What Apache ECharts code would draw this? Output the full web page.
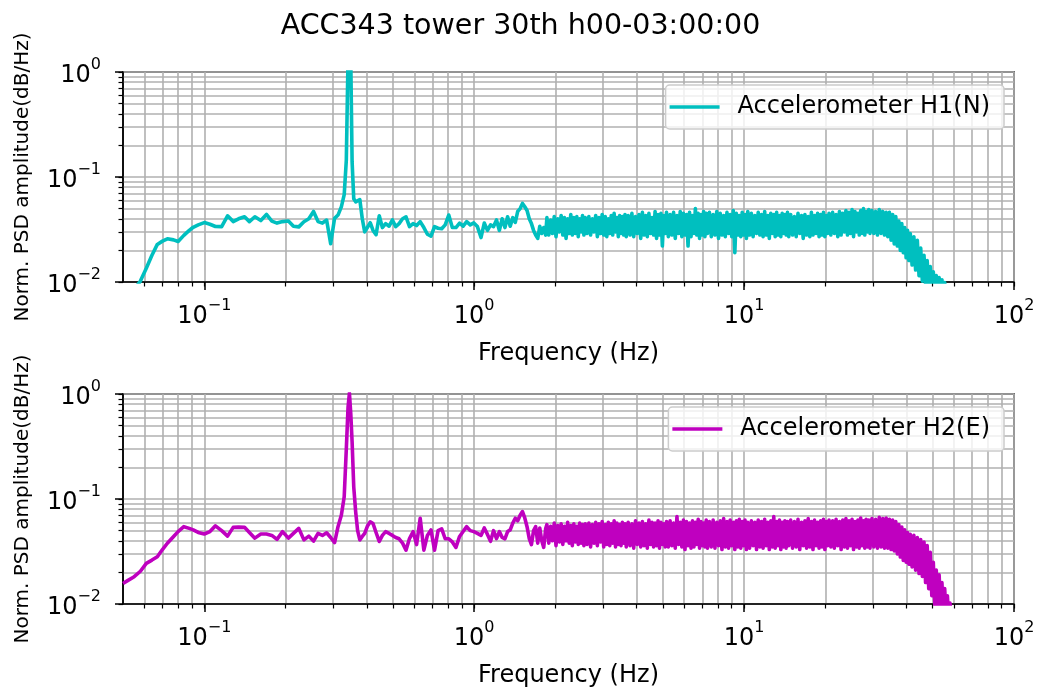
<!DOCTYPE html>
<html><head><meta charset="utf-8">
<script src="https://cdn.jsdelivr.net/npm/echarts@6/dist/echarts.min.js"></script>
<style>html,body{margin:0;padding:0;background:#fff}#c{width:1041px;height:691px}</style>
</head><body><div id="c"></div>
<script>
const titleText = 'ACC343 tower 30th h00-03:00:00';
const seriesNames = ['Accelerometer H1(N)', 'Accelerometer H2(E)'];
const seriesColors = ['#00bfbf', '#bf00bf'];
const xName = 'Frequency (Hz)';
const yName = 'Norm. PSD amplitude(dB/Hz)';

const freq = [
0.050,0.052,0.055,0.058,0.061,0.064,0.067,0.070,0.073,0.077,
0.080,0.084,0.088,0.091,0.095,0.100,0.105,0.110,0.116,0.122,
0.128,0.134,0.141,0.147,0.154,0.162,0.170,0.178,0.186,0.195,
0.205,0.214,0.224,0.234,0.244,0.254,0.264,0.274,0.284,0.294,
0.304,0.313,0.322,0.330,0.336,0.341,0.345,0.349,0.353,0.358,
0.364,0.370,0.377,0.385,0.393,0.402,0.412,0.422,0.433,0.445,
0.457,0.470,0.484,0.498,0.512,0.527,0.543,0.559,0.576,0.594,
0.612,0.631,0.651,0.671,0.692,0.713,0.735,0.758,0.781,0.805,
0.830,0.856,0.883,0.910,0.938,0.967,0.997,1.028,1.06,1.09,
1.12,1.15,1.18,1.21,1.24,1.27,1.30,1.33,1.36,1.39,
1.42,1.45,1.48,1.51,1.54,1.57,1.60,1.63,1.66,1.69,
1.72,1.75,1.78,1.81,1.84,
1.86,1.89,1.92,1.95,1.98,2.01,2.04,2.07,2.10,2.13,2.16,2.19,2.22,2.25,2.28,2.31,2.34,2.37,2.40,2.43,2.46,2.49,2.52,2.55,2.58,
2.62,2.66,2.70,2.74,2.78,2.82,2.86,2.90,2.94,2.98,3.02,3.06,3.10,3.14,3.18,3.22,3.26,3.30,3.34,3.38,3.42,3.46,3.50,3.54,3.58,3.62,3.66,
3.72,3.78,3.84,3.90,3.96,4.02,4.08,4.14,4.20,4.26,4.32,4.38,4.44,4.50,4.56,4.62,4.68,4.74,4.80,4.86,4.92,4.98,5.04,5.10,5.16,
5.24,5.32,5.40,5.48,5.56,5.64,5.72,5.80,5.88,5.96,6.04,6.12,6.20,6.28,6.36,6.44,6.52,6.60,6.68,6.76,6.84,6.92,7.00,7.08,7.16,7.24,7.32,
7.44,7.56,7.68,7.80,7.92,8.04,8.16,8.28,8.40,8.52,8.64,8.76,8.88,9.00,9.12,9.24,9.36,9.48,9.60,9.72,9.84,9.96,10.08,10.20,10.32,
10.48,10.64,10.80,10.96,11.12,11.28,11.44,11.60,11.76,11.92,12.08,12.24,12.40,12.56,12.72,12.88,13.04,13.20,13.36,13.52,13.68,13.84,14.00,14.16,14.32,14.48,14.64,
14.88,15.12,15.36,15.60,15.84,16.08,16.32,16.56,16.80,17.04,17.28,17.52,17.76,18.00,18.24,18.48,18.72,18.96,19.20,19.44,19.68,19.92,20.16,20.40,20.64,
20.96,21.28,21.60,21.92,22.24,22.56,22.88,23.20,23.52,23.84,24.16,24.48,24.80,25.12,25.44,25.76,26.08,26.40,26.72,27.04,27.36,27.68,28.00,28.32,28.64,28.96,29.28,
29.76,30.24,30.72,31.20,31.68,32.16,32.64,33.12,33.60,34.08,34.56,35.04,35.52,36.00,36.48,36.96,37.44,37.92,38.40,38.88,39.36,39.84,40.32,40.80,41.28,
41.92,42.56,43.20,43.84,44.48,45.12,45.76,46.40,47.04,47.68,48.32,48.96,49.60,50.24,50.88,51.52,52.16,52.80,53.44,54.08,54.72,55.36,56.00,56.64,57.28,57.92,58.56
];

const h1 = [
0.006,0.007,0.0085,0.0102,0.0135,0.018,0.0228,0.0245,0.0258,0.0252,
0.0243,0.0278,0.031,0.0332,0.035,0.0368,0.0355,0.0338,0.0337,0.0427,
0.0376,0.040,0.0418,0.0376,0.0418,0.0385,0.044,0.038,0.0364,0.0376,
0.0381,0.034,0.0335,0.0375,0.040,0.047,0.0376,0.0364,0.0389,0.0232,
0.0404,0.0434,0.052,0.068,0.145,1.4,1.6,1.3,0.14,0.062,
0.058,0.056,0.061,0.040,0.030,0.033,0.0367,0.031,0.0282,0.0427,
0.033,0.036,0.034,0.039,0.0337,0.036,0.040,0.0418,0.0337,0.036,
0.0345,0.0376,0.033,0.0285,0.0273,0.0337,0.0325,0.0322,0.035,0.0434,
0.033,0.033,0.0364,0.034,0.0376,0.035,0.0365,0.0337,0.0265,0.0364,
0.031,0.035,0.0337,0.039,0.031,0.040,0.033,0.0418,0.034,0.041,
0.037,0.047,0.050,0.056,0.052,0.048,0.040,0.036,0.031,0.028,
0.026,0.034,0.029,0.033,0.028,
0.041,0.028,0.039,0.029,0.042,0.027,0.040,0.030,0.043,0.028,0.041,0.026,0.040,0.029,0.044,0.028,0.041,0.029,0.042,0.027,0.040,0.030,0.043,0.028,0.041,
0.029,0.042,0.028,0.040,0.030,0.043,0.027,0.041,0.029,0.044,0.028,0.042,0.027,0.040,0.029,0.043,0.028,0.045,0.030,0.041,0.027,0.043,0.029,0.042,0.028,0.044,0.027,
0.043,0.028,0.045,0.027,0.042,0.029,0.044,0.026,0.046,0.028,0.043,0.027,0.045,0.029,0.041,0.028,0.047,0.026,0.044,0.028,0.045,0.022,0.043,0.029,0.046,
0.027,0.044,0.028,0.046,0.026,0.043,0.029,0.047,0.027,0.045,0.028,0.044,0.022,0.046,0.027,0.043,0.029,0.050,0.028,0.045,0.026,0.044,0.028,0.047,0.027,0.045,0.029,
0.046,0.027,0.044,0.028,0.047,0.026,0.045,0.028,0.043,0.027,0.046,0.029,0.044,0.027,0.048,0.019,0.045,0.028,0.043,0.027,0.046,0.028,0.044,0.026,0.047,
0.028,0.045,0.027,0.043,0.029,0.046,0.028,0.044,0.027,0.047,0.028,0.043,0.026,0.045,0.029,0.044,0.027,0.046,0.028,0.043,0.027,0.045,0.029,0.044,0.028,0.046,0.027,
0.044,0.028,0.042,0.027,0.045,0.029,0.043,0.026,0.044,0.028,0.042,0.027,0.046,0.028,0.043,0.029,0.045,0.027,0.044,0.028,0.046,0.027,0.043,0.029,0.045,
0.028,0.046,0.029,0.044,0.027,0.047,0.028,0.045,0.030,0.048,0.028,0.046,0.029,0.049,0.027,0.047,0.030,0.045,0.028,0.048,0.029,0.050,0.028,0.047,0.030,0.049,0.029,
0.048,0.029,0.047,0.028,0.049,0.029,0.047,0.028,0.046,0.027,0.046,0.025,0.044,0.023,0.042,0.022,0.038,0.020,0.036,0.019,0.033,0.017,0.031,0.016,0.029,
0.0145,0.027,0.013,0.025,0.0115,0.021,0.0102,0.018,0.0095,0.016,0.009,0.014,0.0088,0.0125,0.0085,0.0115,0.0082,0.011,0.008,0.0105,0.0078,0.0099,0.0075,0.009,0.0072,0.0085,0.007
];

const h2 = [
0.0157,0.0167,0.0182,0.0205,0.0244,0.0262,0.0282,0.033,0.0379,0.044,
0.0489,0.0545,0.0525,0.0508,0.048,0.0464,0.049,0.0555,0.050,0.0443,
0.0537,0.054,0.0537,0.048,0.0424,0.0464,0.0464,0.045,0.0413,0.0489,
0.0424,0.047,0.0525,0.0408,0.0443,0.0397,0.047,0.045,0.0477,0.043,
0.0385,0.0545,0.070,0.105,0.3,0.75,1.02,0.65,0.35,0.13,
0.075,0.05,0.0408,0.044,0.047,0.055,0.0607,0.0585,0.048,0.0394,
0.045,0.0489,0.047,0.045,0.043,0.0418,0.038,0.0326,0.042,0.0489,
0.0368,0.0656,0.0326,0.045,0.0508,0.0326,0.050,0.052,0.0418,0.0418,
0.039,0.0346,0.044,0.049,0.0545,0.050,0.0489,0.047,0.045,0.053,
0.046,0.0395,0.050,0.042,0.0489,0.043,0.0418,0.049,0.0508,0.059,
0.0656,0.062,0.070,0.0759,0.066,0.0545,0.042,0.0368,0.050,0.0545,
0.038,0.053,0.040,0.0346,0.052,
0.057,0.038,0.055,0.040,0.059,0.036,0.056,0.039,0.058,0.037,0.055,0.040,0.060,0.038,0.056,0.036,0.058,0.039,0.055,0.037,0.059,0.038,0.057,0.036,0.058,
0.037,0.059,0.035,0.057,0.038,0.060,0.036,0.058,0.039,0.061,0.035,0.057,0.037,0.060,0.036,0.058,0.038,0.062,0.035,0.059,0.037,0.057,0.036,0.060,0.038,0.058,0.035,
0.060,0.036,0.058,0.034,0.062,0.037,0.059,0.035,0.061,0.036,0.058,0.034,0.063,0.037,0.060,0.035,0.059,0.036,0.062,0.034,0.060,0.037,0.058,0.035,0.061,
0.035,0.062,0.036,0.059,0.034,0.068,0.037,0.060,0.035,0.063,0.033,0.061,0.036,0.059,0.034,0.062,0.035,0.060,0.037,0.064,0.034,0.061,0.036,0.059,0.035,0.063,0.034,
0.061,0.035,0.063,0.034,0.060,0.036,0.062,0.033,0.065,0.035,0.061,0.034,0.063,0.036,0.060,0.033,0.062,0.035,0.064,0.034,0.061,0.036,0.063,0.033,0.060,
0.034,0.062,0.036,0.060,0.033,0.063,0.035,0.061,0.034,0.064,0.036,0.060,0.033,0.062,0.035,0.068,0.034,0.061,0.036,0.063,0.033,0.060,0.035,0.062,0.034,0.061,0.036,
0.063,0.034,0.061,0.035,0.064,0.033,0.060,0.036,0.062,0.034,0.065,0.035,0.061,0.033,0.063,0.036,0.060,0.034,0.062,0.035,0.064,0.033,0.061,0.036,0.063,
0.035,0.062,0.034,0.064,0.036,0.061,0.033,0.063,0.035,0.065,0.034,0.062,0.036,0.064,0.033,0.061,0.035,0.063,0.034,0.066,0.036,0.062,0.034,0.064,0.035,0.063,0.034,
0.065,0.035,0.064,0.034,0.067,0.035,0.065,0.034,0.066,0.034,0.064,0.033,0.063,0.032,0.061,0.030,0.057,0.028,0.054,0.026,0.051,0.025,0.048,0.024,0.046,
0.0225,0.045,0.021,0.043,0.0195,0.041,0.0183,0.039,0.016,0.036,0.014,0.031,0.012,0.025,0.0098,0.021,0.009,0.019,0.0085,0.016,0.008,0.014,0.0078,0.012,0.0075,0.0102,0.0072
];

const xMajorTicks = [0.1, 1, 10, 100];
const xMinorTicks = [0.06,0.07,0.08,0.09,0.2,0.3,0.4,0.5,0.6,0.7,0.8,0.9,2,3,4,5,6,7,8,9,20,30,40,50,60,70,80,90];
const yMajorTicks = [0.01, 0.1, 1];
const yMinorTicks = [0.02,0.03,0.04,0.05,0.06,0.07,0.08,0.09,0.2,0.3,0.4,0.5,0.6,0.7,0.8,0.9];

const FONT = 'DejaVu Sans';
const gridColor = '#b0b0b0';

function powLabel(v) {
  const e = Math.round(Math.log10(v));
  return '{b|10}{s|' + (e < 0 ? '\u2212' + (-e) : String(e)) + '}';
}
const richLbl = {
  b: { fontFamily: FONT, fontSize: 24, color: '#000', padding: [7, 0, 0, 0] },
  s: { fontFamily: FONT, fontSize: 16, color: '#000', verticalAlign: 'top' }
};

const grids = [
  { left: 123, right: 27, top: 72, height: 210 },
  { left: 123, right: 27, top: 394, height: 210 }
];

const xAxes = [], yAxes = [], series = [], legends = [];
const values = [h1, h2];
grids.forEach((g, i) => {
  xAxes.push({
    type: 'log', logBase: 10, gridIndex: i, min: 0.05, max: 100, position: 'bottom',
    axisLine: { show: true, lineStyle: { color: '#000', width: 1.5 } },
    axisTick: { show: true, length: 8, customValues: xMajorTicks, lineStyle: { color: '#000', width: 1.5 } },
    axisLabel: { show: true, customValues: xMajorTicks, margin: 16, formatter: powLabel, rich: richLbl },
    splitLine: { show: false },
    name: xName, nameLocation: 'middle', nameGap: 60,
    nameTextStyle: { fontFamily: FONT, fontSize: 24, color: '#000' }
  });
  xAxes.push({
    type: 'log', logBase: 10, gridIndex: i, min: 0.05, max: 100, position: 'bottom',
    axisLine: { show: false },
    axisTick: { show: true, length: 4.5, customValues: xMinorTicks.concat(xMajorTicks), lineStyle: { color: '#000', width: 1.2 } },
    axisLabel: { show: false },
    splitLine: { show: true, lineStyle: { color: gridColor, width: 1.6 } }
  });
  yAxes.push({
    type: 'log', logBase: 10, gridIndex: i, min: 0.01, max: 1, position: 'left',
    axisLine: { show: true, lineStyle: { color: '#000', width: 1.5 } },
    axisTick: { show: true, length: 8, customValues: yMajorTicks, lineStyle: { color: '#000', width: 1.5 } },
    axisLabel: { show: true, customValues: yMajorTicks, margin: 22, formatter: powLabel, rich: richLbl },
    splitLine: { show: false },
    name: yName, nameLocation: 'middle', nameGap: 90,
    nameTextStyle: { fontFamily: FONT, fontSize: 20, color: '#000' }
  });
  yAxes.push({
    type: 'log', logBase: 10, gridIndex: i, min: 0.01, max: 1, position: 'left',
    axisLine: { show: false },
    axisTick: { show: true, length: 4.5, customValues: yMinorTicks.concat(yMajorTicks), lineStyle: { color: '#000', width: 1.2 } },
    axisLabel: { show: false },
    splitLine: { show: true, lineStyle: { color: gridColor, width: 1.6 } }
  });
  series.push({
    name: seriesNames[i], type: 'line', xAxisIndex: i * 2, yAxisIndex: i * 2,
    data: freq.map((f, k) => [f, values[i][k]]),
    showSymbol: false, symbol: 'none', clip: true, sampling: null,
    lineStyle: { color: seriesColors[i], width: 3.6, join: 'round' }, itemStyle: { color: seriesColors[i] },
    z: 5
  });
  legends.push({
    data: [seriesNames[i]], right: 37, top: g.top + 13, orient: 'vertical',
    icon: 'rect', itemWidth: 50, itemHeight: 3.6,
    padding: [10, 14, 10, 4],
    backgroundColor: 'rgba(255,255,255,0.8)', borderColor: '#cccccc', borderWidth: 1.5, borderRadius: 4,
    textStyle: { fontFamily: FONT, fontSize: 24, color: '#000', padding: [0, 0, 0, 13] }
  });
});
grids.forEach(g => { g.show = true; g.borderColor = '#000'; g.borderWidth = 1.5; g.backgroundColor = 'transparent'; });

const chart = echarts.init(document.getElementById('c'), null, { renderer: 'canvas' });
chart.setOption({
  animation: false,
  backgroundColor: '#fff',
  title: { text: titleText, left: 'center', top: 7, textStyle: { fontFamily: FONT, fontSize: 28.5, fontWeight: 'normal', color: '#000' } },
  grid: grids, xAxis: xAxes, yAxis: yAxes, series: series, legend: legends
});
</script>
</body></html>
